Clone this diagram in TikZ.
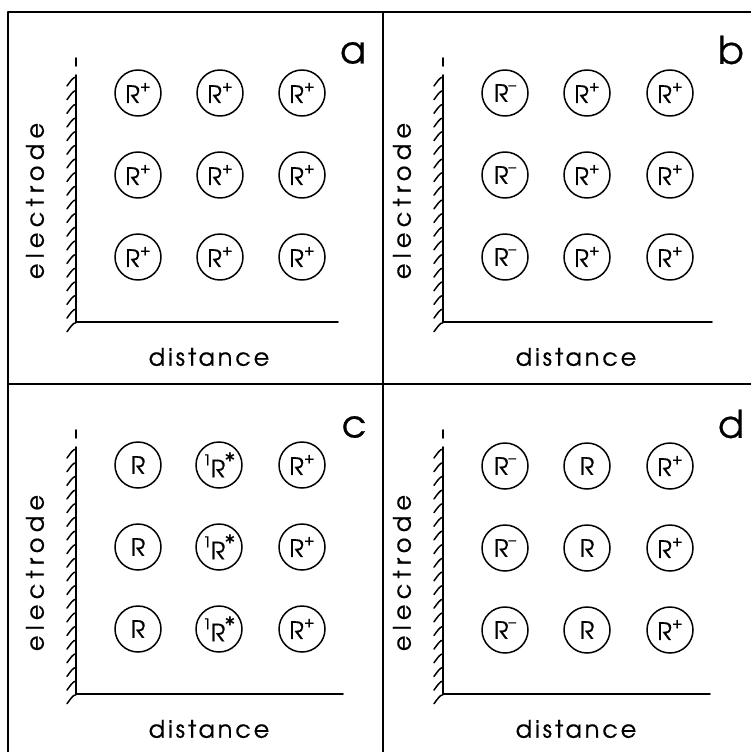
\documentclass[tikz,border=0pt]{standalone}
\usepackage{fontspec}
\setmainfont{texgyreadventor-regular}[Extension=.otf,FakeBold=0.6]
\newfontfamily\distfont{texgyreadventor-regular}[Extension=.otf,FakeBold=0.6,LetterSpace=12]
\newfontfamily\elecfont{texgyreadventor-regular}[Extension=.otf,FakeBold=0.6,LetterSpace=22]
\newfontfamily\thinfont{texgyreadventor-regular}[Extension=.otf]
\usetikzlibrary{calc}

% one panel: wall with hatching, distance axis, axis labels
\newcommand\electrodeaxes[2]{%
  \coordinate (#1tick) at (76,58);
  \coordinate (#1tickend) at (76,66);
  \coordinate (#1wall) at (76,75);
  \coordinate (#1corner) at (76,322);
  \coordinate (#1end) at (#2,322);
  \draw[axisline] (#1tick) -- (#1tickend);
  \draw[axisline] (#1wall) -- (#1corner) -- (#1end);
  \foreach \k in {0,...,18}{
    \draw[hatchline] ($(#1wall)+(0,2+13.65*\k)$)
      .. controls +(-3,0) and +(3,-4) .. +(-9,9);
  }
  \node[axlabel, font=\elecfont\fontsize{24}{24}\selectfont, rotate=90] (#1elec) at (35,201) {electrode};
  \node[axlabel, font=\distfont\fontsize{24}{24}\selectfont] (#1dist) at (209,357) {distance};
}
% charge and spin marks set high beside the symbol
\newcommand\up[1]{\raisebox{12pt}{\fontsize{15}{15}\selectfont#1}}
\newcommand\excmark{\raisebox{7pt}{\thinfont\fontsize{24}{24}\selectfont*}}

\begin{document}
\begin{tikzpicture}[x=1pt,y=-1pt,line cap=round,line join=round]
\tikzset{
  frameline/.style={line width=1.7pt},
  axisline/.style={line width=1.9pt},
  hatchline/.style={line width=1.5pt},
  ion/.style={circle,draw,line width=1.5pt,minimum size=46pt,inner sep=0pt,
    font=\fontsize{24}{24}\selectfont},
  axlabel/.style={inner sep=0pt},
  tag/.style={inner sep=0pt,font=\fontsize{38}{38}\selectfont},
}
\useasboundingbox (0,0) rectangle (751,752);
\fill[white] (0,0) rectangle (751,752);

% frame of the four panels
\coordinate (ftl) at (8,12);
\coordinate (ftr) at (751,12);
\coordinate (fbl) at (8,752);
\coordinate (fmt) at (383,12);
\coordinate (fmb) at (383,752);
\coordinate (fml) at (8,384);
\coordinate (fmr) at (751,384);
\draw[frameline] (fbl) -- (ftl) -- (ftr);
\draw[frameline] (fmt) -- (fmb);
\draw[frameline] (fml) -- (fmr);

% panel a
\begin{scope}
  \electrodeaxes{a}{338}
  \node[tag] (atag) at (353,53) {a};
  \foreach \r/\y in {1/93,2/175,3/257}{
    \node[ion] (a\r1) at (138,\y) {R\up{+}};
    \node[ion] (a\r2) at (220,\y) {R\up{+}};
    \node[ion] (a\r3) at (302,\y) {R\up{+}};
  }
\end{scope}

% panel b
\begin{scope}[shift={(367,0)}]
  \electrodeaxes{b}{345}
  \node[tag] (btag) at (364,50) {b};
  \foreach \r/\y in {1/93,2/175,3/257}{
    \node[ion] (b\r1) at (138,\y) {R\up{–}};
    \node[ion] (b\r2) at (220,\y) {R\up{+}};
    \node[ion] (b\r3) at (303,\y) {R\up{+}};
  }
\end{scope}

% panel c
\begin{scope}[shift={(0,372)}]
  \electrodeaxes{c}{343}
  \node[tag] (ctag) at (354,55) {c};
  \foreach \r/\y in {1/93,2/175,3/257}{
    \node[ion] (c\r1) at (138,\y) {R};
    \node[ion] (c\r2) at (219,\y) {\up{1}\kern-0.5ptR\kern-0.5pt\excmark};
    \node[ion] (c\r3) at (302,\y) {R\up{+}};
  }
\end{scope}

% panel d
\begin{scope}[shift={(367,372)}]
  \electrodeaxes{d}{343}
  \node[tag] (dtag) at (364,52) {d};
  \foreach \r/\y in {1/94,2/176,3/258}{
    \node[ion] (d\r1) at (138,\y) {R\up{–}};
    \node[ion] (d\r2) at (220,\y) {R};
    \node[ion] (d\r3) at (303,\y) {R\up{+}};
  }
\end{scope}
\end{tikzpicture}
\end{document}
